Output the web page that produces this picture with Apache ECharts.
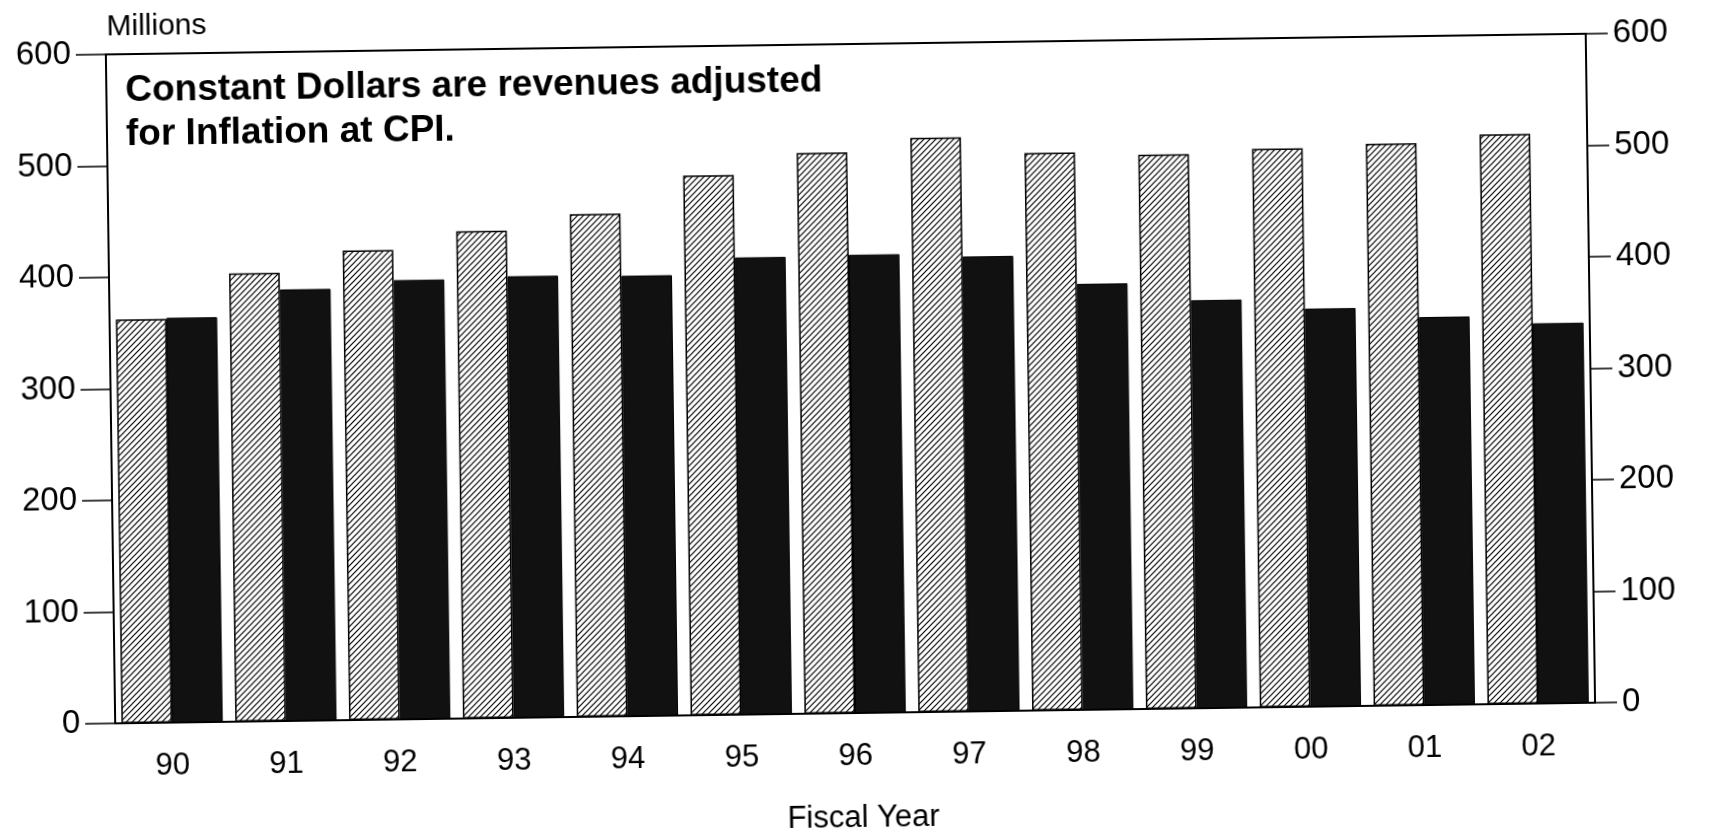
<!DOCTYPE html>
<html>
<head>
<meta charset="utf-8">
<style>
  html, body { margin: 0; padding: 0; background: #fff; overflow: hidden; }
  /* the scan is tilted a little, turn the whole chart with it */
  #demo { width: 1711px; height: 835px; transform: rotate(-0.8deg); transform-origin: 50% 50%; }
</style>
<script src="https://cdn.jsdelivr.net/npm/echarts@6/dist/echarts.min.js"></script>
</head>
<body>
<div id="demo"></div>
<script>
// data
var years = ['90', '91', '92', '93', '94', '95', '96', '97', '98', '99', '00', '01', '02'];
var nominal = [362, 402, 421, 437, 451, 484, 503, 515, 500, 497, 501, 504, 511];
var constant = [363, 387, 394, 396, 395, 410, 411, 408, 382, 366, 357, 348, 341];
var yTicks = [0, 100, 200, 300, 400, 500, 600];

// diagonal hatch for the light bars
function hatch() {
    var c = document.createElement('canvas');
    c.width = 6;
    c.height = 6;
    var ctx = c.getContext('2d');
    ctx.fillStyle = '#fff';
    ctx.fillRect(0, 0, 6, 6);
    ctx.strokeStyle = '#000';
    ctx.lineWidth = 1.2;
    ctx.beginPath();
    ctx.moveTo(0, 6); ctx.lineTo(6, 0);
    ctx.moveTo(-1, 1); ctx.lineTo(1, -1);
    ctx.moveTo(5, 7); ctx.lineTo(7, 5);
    ctx.stroke();
    return c;
}

var myChart = echarts.init(document.getElementById('demo'));
var font = 'Liberation Sans, Arial, sans-serif';

function tickText(v) {
    return yTicks.indexOf(v) >= 0 ? String(v) : '';
}

option = {
    animation: false,
    grid: {
        left: 111,
        right: 120,
        top: 44,
        bottom: 122,
        show: true,
        borderColor: '#000',
        borderWidth: 2,
        backgroundColor: 'transparent'
    },
    xAxis: {
        type: 'category',
        data: years,
        axisLine: { show: true, lineStyle: { color: '#000', width: 2 } },
        axisTick: { show: false },
        axisLabel: { color: '#000', fontSize: 31, fontFamily: font, margin: 28 }
    },
    yAxis: [
        {
            type: 'value',
            position: 'left',
            min: 0,
            max: 600,
            interval: 100,
            axisLine: { show: true, lineStyle: { color: '#000', width: 2 } },
            axisTick: { show: true, length: 30, lineStyle: { color: '#000', width: 1.5 } },
            splitLine: { show: false },
            axisLabel: { color: '#000', fontSize: 33, fontFamily: font, margin: 35, formatter: tickText }
        },
        {
            type: 'value',
            position: 'right',
            min: 0,
            max: 600,
            interval: 100,
            axisLine: { show: true, lineStyle: { color: '#000', width: 2 } },
            axisTick: { show: true, length: 22, lineStyle: { color: '#000', width: 1.5 } },
            splitLine: { show: false },
            axisLabel: { color: '#000', fontSize: 33, fontFamily: font, margin: 27, formatter: tickText }
        }
    ],
    series: [
        {
            name: 'Revenues',
            type: 'bar',
            data: nominal,
            barGap: '0%',
            barCategoryGap: '11%',
            itemStyle: {
                color: { image: hatch(), repeat: 'repeat' },
                borderColor: '#000',
                borderWidth: 1.5
            }
        },
        {
            name: 'Constant Dollars',
            type: 'bar',
            data: constant,
            itemStyle: { color: '#111', borderColor: '#000', borderWidth: 1 }
        }
    ],
    graphic: [
        {
            type: 'text', left: 112, top: 2,
            style: { text: 'Millions', fontSize: 30, fontFamily: font, fill: '#000' }
        },
        {
            type: 'text', left: 130, top: 59,
            style: {
                text: 'Constant Dollars are revenues adjusted\nfor Inflation at CPI.',
                fontSize: 37, fontWeight: 'bold', fontFamily: font, fill: '#000', lineHeight: 44
            }
        },
        {
            type: 'text', x: 858, y: 818,
            style: {
                text: 'Fiscal Year', fontSize: 31, fontFamily: font, fill: '#000',
                align: 'center', verticalAlign: 'middle'
            }
        }
    ]
};

myChart.setOption(option);
</script>
</body>
</html>
